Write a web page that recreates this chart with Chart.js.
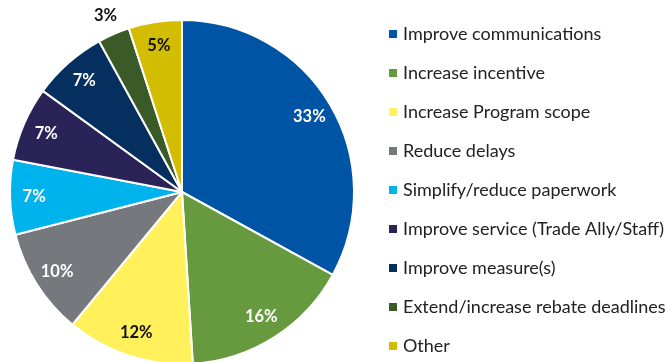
<!DOCTYPE html>
<html>
<head>
<meta charset="utf-8">
<script src="https://cdn.jsdelivr.net/npm/chart.js@4/dist/chart.umd.min.js"></script>
<style>
  html, body { margin: 0; padding: 0; background: #fff; overflow: hidden; }
  #wrap { width: 667px; height: 384px; }
</style>
</head>
<body>
<div id="wrap"><canvas id="pie" width="667" height="384"></canvas></div>
<script>
const categories = [
  "Improve communications",
  "Increase incentive",
  "Increase Program scope",
  "Reduce delays",
  "Simplify/reduce paperwork",
  "Improve service (Trade Ally/Staff)",
  "Improve measure(s)",
  "Extend/increase rebate deadlines",
  "Other"
];
const shares = [33, 16, 12, 10, 7, 7, 7, 3, 5];
const sliceColors = ["#0054a6", "#679a3e", "#fff05c", "#75797d", "#00b3ec", "#2a2358", "#042f5e", "#3a5a27", "#d3bd00"];
const labelColors = ["#fff", "#fff", "#111", "#fff", "#fff", "#fff", "#fff", "#111", "#111"];
const outsideLabel = [false, false, false, false, false, false, false, true, false];

const FONT = "Lato, 'DejaVu Sans', sans-serif";

// percentage text on (or just outside) each slice
const sliceLabels = {
  id: "sliceLabels",
  afterDatasetsDraw(chart) {
    const ctx = chart.ctx;
    const meta = chart.getDatasetMeta(0);
    ctx.save();
    ctx.font = "bold 16.5px " + FONT;
    ctx.textAlign = "center";
    ctx.textBaseline = "middle";
    meta.data.forEach((arc, i) => {
      const mid = (arc.startAngle + arc.endAngle) / 2;
      const r = outsideLabel[i] ? arc.outerRadius * 1.12 : arc.outerRadius * 0.86;
      ctx.fillStyle = labelColors[i];
      ctx.fillText(shares[i] + "%", arc.x + Math.cos(mid) * r, arc.y + Math.sin(mid) * r);
    });
    ctx.restore();
  }
};

// legend column on the right
const sideLegend = {
  id: "sideLegend",
  afterDraw(chart) {
    const ctx = chart.ctx;
    ctx.save();
    ctx.font = "18px " + FONT;
    ctx.textBaseline = "middle";
    ctx.textAlign = "left";
    categories.forEach((name, i) => {
      const y = 34 + i * 39;
      ctx.fillStyle = sliceColors[i];
      ctx.fillRect(389, y - 4, 8, 8);
      ctx.fillStyle = "#222";
      ctx.fillText(name, 403, y);
    });
    ctx.restore();
  }
};

new Chart(document.getElementById("pie"), {
  type: "pie",
  data: {
    labels: categories,
    datasets: [{
      data: shares,
      backgroundColor: sliceColors,
      borderColor: "#fff",
      borderWidth: 2
    }]
  },
  options: {
    responsive: false,
    animation: false,
    radius: 172,
    layout: { padding: { left: 0, top: 0, bottom: 0, right: 303 } },
    plugins: { legend: { display: false }, tooltip: { enabled: false } }
  },
  plugins: [sliceLabels, sideLegend]
});
</script>
</body>
</html>
